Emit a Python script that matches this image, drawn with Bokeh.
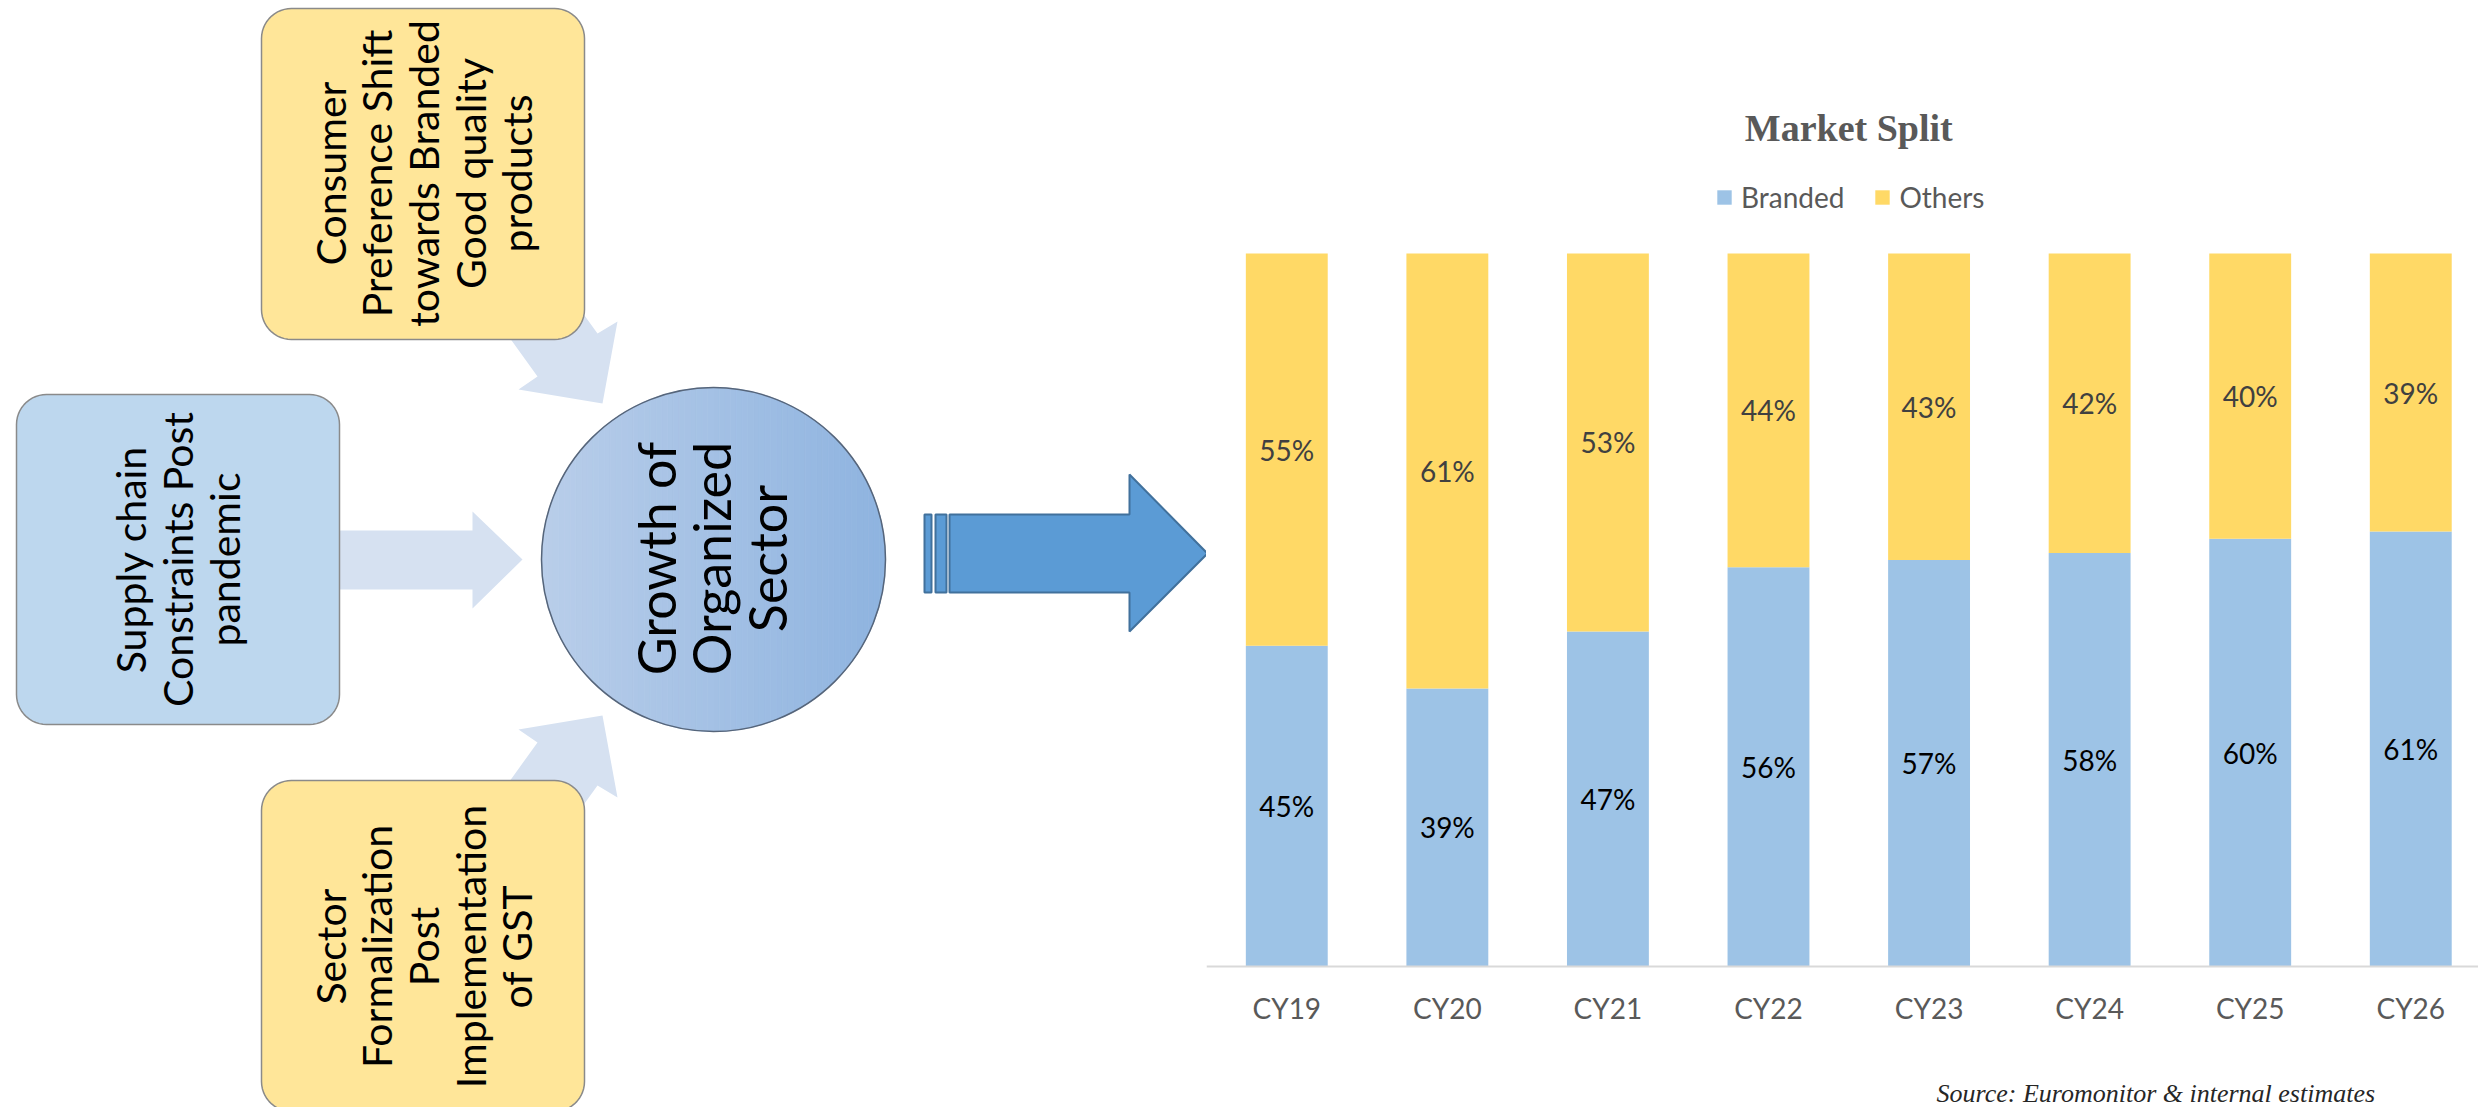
import numpy as np
from bokeh.plotting import figure
from bokeh.models import Range1d, FixedTicker, Label, ColumnDataSource
from bokeh.layouts import row
from bokeh.embed import file_html
from bokeh.resources import INLINE
from bokeh.core.properties import value

# ---------------- data ----------------
categories = ["CY19", "CY20", "CY21", "CY22", "CY23", "CY24", "CY25", "CY26"]
branded = [45, 39, 47, 56, 57, 58, 60, 61]
others = [55, 61, 53, 44, 43, 42, 40, 39]
series_names = ["Branded", "Others"]
chart_title = "Market Split"
source_note = "Source: Euromonitor & internal estimates"

driver_top = "Consumer\nPreference Shift\ntowards Branded\nGood quality\nproducts"
driver_left = "Supply chain\nConstraints Post\npandemic"
driver_bottom = "Sector\nFormalization\nPost\nImplementation\nof GST"
hub_text = "Growth of\nOrganized\nSector"

# ---------------- layout constants ----------------
H = 1107
W_L = 1206
W_R = 2478 - W_L

# ---------------- diagram (left) ----------------
d = figure(width=W_L, height=H, x_range=Range1d(0, W_L), y_range=Range1d(H, 0),
           output_backend="svg", toolbar_location=None,
           x_axis_location=None, y_axis_location=None,
           min_border=0, outline_line_color=None)
d.grid.visible = False


def rrect(x0, y0, x1, y1, r, n=14):
    xs, ys = [], []
    for cx, cy, a0, a1 in [(x0 + r, y0 + r, np.pi, 1.5 * np.pi),
                           (x1 - r, y0 + r, 1.5 * np.pi, 2 * np.pi),
                           (x1 - r, y1 - r, 0, 0.5 * np.pi),
                           (x0 + r, y1 - r, 0.5 * np.pi, np.pi)]:
        t = np.linspace(a0, a1, n)
        xs += list(cx + r * np.cos(t))
        ys += list(cy + r * np.sin(t))
    return xs, ys


arrow_col = "#d6e1f1"
# left arrow
d.patch([330, 472, 472, 522, 472, 472, 330], [530, 530, 511, 559, 608, 589, 589],
        fill_color=arrow_col, line_color=None)
# top diagonal arrow
ta_x = [449, 537, 518, 602, 617, 597, 509]
ta_y = [254, 376, 389, 403, 321, 333, 211]
d.patch(ta_x, ta_y, fill_color=arrow_col, line_color=None)
# bottom diagonal arrow (mirror)
d.patch(ta_x, [1118 - v for v in ta_y], fill_color=arrow_col, line_color=None)

# boxes
for (x0, y0, x1, y1, col) in [(261, 8, 584, 339, "#ffe699"),
                              (16, 394, 339, 724, "#bdd7ee"),
                              (261, 780, 584, 1111, "#ffe699")]:
    xs, ys = rrect(x0, y0, x1, y1, 30)
    d.patch(xs, ys, fill_color=col, line_color="#8a8a8a", line_width=1.5)

# circle with horizontal gradient
cx, cy, R = 713, 559, 172
N = 60
edges = np.linspace(cx - R, cx + R, N + 1)
c0 = np.array([0xb9, 0xce, 0xea])
c1 = np.array([0x8f, 0xb4, 0xe0])
pxs, pys, cols = [], [], []
for i in range(N):
    xx = np.linspace(edges[i], edges[i + 1], 5)
    h = np.sqrt(np.clip(R ** 2 - (xx - cx) ** 2, 0, None))
    pxs.append(list(xx) + list(xx[::-1]))
    pys.append(list(cy - h) + list((cy + h)[::-1]))
    f = i / (N - 1)
    c = (c0 * (1 - f) + c1 * f).astype(int)
    cols.append("#%02x%02x%02x" % tuple(c))
d.patches(pxs, pys, fill_color=cols, line_color=cols, line_width=0.8)
d.circle(x=[cx], y=[cy], radius=R, fill_color=None, line_color="#56657a", line_width=1.5)

# big blue arrow
blue, blue_line = "#5b9bd5", "#41719c"
d.quad(left=[924, 935], right=[931, 946], top=[514, 514], bottom=[592, 592],
       fill_color=blue, line_color=blue_line, line_width=2)
d.patch([949, 1129, 1129, 1207, 1129, 1129, 949], [514, 514, 474, 553, 631, 592, 592],
        fill_color=blue, line_color=blue_line, line_width=2)

# texts (rotated, reading bottom to top)
txt_kw = dict(angle=np.pi / 2, text_align="center", text_baseline="middle",
              text_font=value("Lato"), text_color="#000000")
d.text(x=[423], y=[173], text=[driver_top], text_font_size="41px",
       text_line_height=0.95, **txt_kw)
d.text(x=[177], y=[559], text=[driver_left], text_font_size="41px",
       text_line_height=0.95, **txt_kw)
d.text(x=[423], y=[946], text=[driver_bottom], text_font_size="41px",
       text_line_height=0.95, **txt_kw)
d.text(x=[711], y=[558], text=[hub_text], text_font_size="52px",
       text_line_height=0.9, **txt_kw)

# ---------------- chart (right) ----------------
AXIS_PX, TOP_PX = 966, 253
PX_PER_PCT = (AXIS_PX - TOP_PX) / 100.0


def px_to_y(py):
    return (AXIS_PX - py) / PX_PER_PCT


step = 160.57
x0 = -0.5
c = figure(width=W_R, height=H, x_range=Range1d(x0, x0 + W_R / step),
           y_range=Range1d(px_to_y(H), px_to_y(0)), output_backend="svg",
           toolbar_location=None, y_axis_location=None, min_border=0,
           outline_line_color=None)
c.grid.visible = False

xs = list(range(len(categories)))
src = ColumnDataSource(dict(x=xs, Branded=branded, Others=others))
c.vbar_stack(series_names, x="x", width=0.51, color=["#9dc3e6", "#ffd966"],
             line_color=None, source=src, legend_label=series_names)

bmid = [b / 2 for b in branded]
omid = [b + o / 2 for b, o in zip(branded, others)]
lab_kw = dict(text_align="center", text_baseline="middle",
              text_font=value("Lato"), text_font_size="28px")
c.text(x=xs, y=bmid, text=[f"{v}%" for v in branded], text_color="#000000", **lab_kw)
c.text(x=xs, y=omid, text=[f"{v}%" for v in others], text_color="#404040", **lab_kw)

ax = c.xaxis[0]
ax.fixed_location = 0
ax.ticker = FixedTicker(ticks=xs)
ax.major_label_overrides = {i: cat for i, cat in enumerate(categories)}
ax.axis_line_color = "#d9d9d9"
ax.axis_line_width = 2
ax.major_tick_line_color = None
ax.minor_tick_line_color = None
ax.major_tick_out = 0
ax.major_tick_in = 0
ax.major_label_standoff = 24
ax.major_label_text_font = "Lato"
ax.major_label_text_font_size = "28px"
ax.major_label_text_color = "#595959"

c.text(x=[3.5], y=[px_to_y(127)], text=[chart_title], text_align="center",
       text_baseline="alphabetic", text_font=value("Liberation Serif"),
       text_font_style="bold", text_font_size="38px", text_color="#595959")

lg = c.legend[0]
lg.orientation = "horizontal"
lg.location = (509, 1107 - 214)
lg.border_line_color = None
lg.background_fill_alpha = 0
lg.padding = 0
lg.margin = 0
lg.spacing = 29
lg.glyph_width = 18
lg.glyph_height = 18
lg.label_standoff = 8
lg.label_text_font = "Lato"
lg.label_text_font_size = "28px"
lg.label_text_color = "#595959"

c.add_layout(Label(x=730 / step + x0, y=px_to_y(1078), text=source_note,
                   text_baseline="top", text_font="Liberation Serif",
                   text_font_style="italic", text_font_size="26px",
                   text_color="#262626"))

layout = row(d, c)
open("out.html", "w").write(file_html(layout, INLINE))
